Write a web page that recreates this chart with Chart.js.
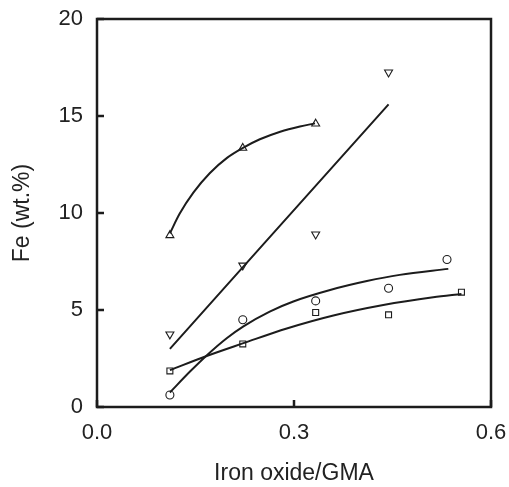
<!DOCTYPE html>
<html>
<head>
<meta charset="utf-8">
<script src="https://cdn.jsdelivr.net/npm/chart.js@4/dist/chart.umd.min.js"></script>
<style>
  html, body { margin: 0; padding: 0; background: #fff; }
  #wrap { width: 509px; height: 487px; }
</style>
</head>
<body>
<div id="wrap"><canvas id="feChart"></canvas></div>
<script>
// measured points
var triUpX = [0.111, 0.222, 0.333];
var triUpY = [8.85, 13.35, 14.6];
var triDownX = [0.111, 0.222, 0.333, 0.444];
var triDownY = [3.75, 7.3, 8.9, 17.25];
var circleX = [0.111, 0.222, 0.333, 0.444, 0.533];
var circleY = [0.62, 4.5, 5.47, 6.12, 7.6];
var squareX = [0.111, 0.222, 0.333, 0.444, 0.555];
var squareY = [1.86, 3.25, 4.87, 4.75, 5.92];

// fitted curves
var triUpFitX = [0.111, 0.126, 0.147, 0.172, 0.198, 0.223, 0.248, 0.279, 0.309, 0.332];
var triUpFitY = [8.95, 9.97, 11.06, 12.06, 12.84, 13.37, 13.8, 14.19, 14.46, 14.62];
var triDownFitX = [0.111, 0.444];
var triDownFitY = [3.0, 15.6];
var circleFitX = [0.111, 0.142, 0.167, 0.198, 0.223, 0.263, 0.299, 0.355, 0.411, 0.461, 0.535];
var circleFitY = [0.75, 1.84, 2.66, 3.56, 4.16, 4.92, 5.44, 6.03, 6.49, 6.81, 7.12];
var squareFitX = [0.111, 0.167, 0.223, 0.289, 0.36, 0.436, 0.512, 0.555];
var squareFitY = [1.9, 2.63, 3.29, 4.05, 4.72, 5.26, 5.66, 5.83];

var xTicks = [0.0, 0.3, 0.6];
var yTicks = [0, 5, 10, 15, 20];

var ink = '#1c1c1c';
var fontFam = 'Liberation Sans, Arial, sans-serif';

function pts(xs, ys) {
  return xs.map(function (x, i) { return { x: x, y: ys[i] }; });
}

function markers(xs, ys, style, radius, rotation) {
  return {
    type: 'scatter',
    data: pts(xs, ys),
    showLine: false,
    pointStyle: style,
    pointRadius: radius,
    pointRotation: rotation || 0,
    pointBorderColor: ink,
    pointBackgroundColor: 'rgba(0,0,0,0)',
    pointBorderWidth: 1.1
  };
}

function fitLine(xs, ys) {
  return {
    type: 'line',
    data: pts(xs, ys),
    showLine: true,
    borderColor: ink,
    borderWidth: 2,
    pointRadius: 0,
    fill: false,
    cubicInterpolationMode: 'monotone'
  };
}

// frame + inward tick marks
var framePlugin = {
  id: 'frame',
  afterDraw: function (chart) {
    var ctx = chart.ctx, a = chart.chartArea;
    var xs = chart.scales.x, ys = chart.scales.y;
    ctx.save();
    ctx.strokeStyle = ink;
    ctx.lineWidth = 2.5;
    ctx.strokeRect(a.left, a.top, a.right - a.left, a.bottom - a.top);
    ctx.beginPath();
    yTicks.forEach(function (v) {
      var py = ys.getPixelForValue(v);
      ctx.moveTo(a.left, py);
      ctx.lineTo(a.left + 7, py);
    });
    xTicks.forEach(function (v) {
      var px = xs.getPixelForValue(v);
      ctx.moveTo(px, a.bottom);
      ctx.lineTo(px, a.bottom - 7);
    });
    ctx.stroke();
    ctx.restore();
  }
};

new Chart(document.getElementById('feChart'), {
  type: 'scatter',
  data: {
    datasets: [
      markers(triUpX, triUpY, 'triangle', 4.6, 0),
      markers(triDownX, triDownY, 'triangle', 4.6, 180),
      markers(circleX, circleY, 'circle', 4, 0),
      markers(squareX, squareY, 'rect', 4.2, 0),
      fitLine(triUpFitX, triUpFitY),
      fitLine(triDownFitX, triDownFitY),
      fitLine(circleFitX, circleFitY),
      fitLine(squareFitX, squareFitY)
    ]
  },
  options: {
    responsive: true,
    maintainAspectRatio: false,
    animation: false,
    layout: { padding: { left: 6, right: 18, top: 19, bottom: 0 } },
    plugins: {
      legend: { display: false },
      tooltip: { enabled: false }
    },
    scales: {
      x: {
        type: 'linear',
        min: 0,
        max: 0.6,
        afterBuildTicks: function (s) { s.ticks = xTicks.map(function (v) { return { value: v }; }); },
        afterFit: function (s) {
          s.height = 80;
          s.paddingLeft = 0;
          s.paddingRight = 0;
        },
        grid: { display: false, drawTicks: false },
        border: { display: false },
        ticks: {
          padding: 13,
          color: '#222',
          font: { family: fontFam, size: 22 },
          callback: function (v) { return Number(v).toFixed(1); }
        },
        title: {
          display: true,
          text: 'Iron oxide/GMA',
          color: '#222',
          font: { family: fontFam, size: 23 },
          padding: { top: 0, bottom: 0 }
        }
      },
      y: {
        type: 'linear',
        min: 0,
        max: 20,
        afterBuildTicks: function (s) { s.ticks = yTicks.map(function (v) { return { value: v }; }); },
        afterFit: function (s) {
          s.width = 91;
          s.paddingTop = 0;
          s.paddingBottom = 0;
        },
        grid: { display: false, drawTicks: false },
        border: { display: false },
        ticks: {
          padding: 14,
          color: '#222',
          font: { family: fontFam, size: 22 }
        },
        title: {
          display: true,
          text: 'Fe (wt.%)',
          color: '#222',
          font: { family: fontFam, size: 23 },
          padding: { top: 3, bottom: 0 }
        }
      }
    }
  },
  plugins: [framePlugin]
});
</script>
</body>
</html>
